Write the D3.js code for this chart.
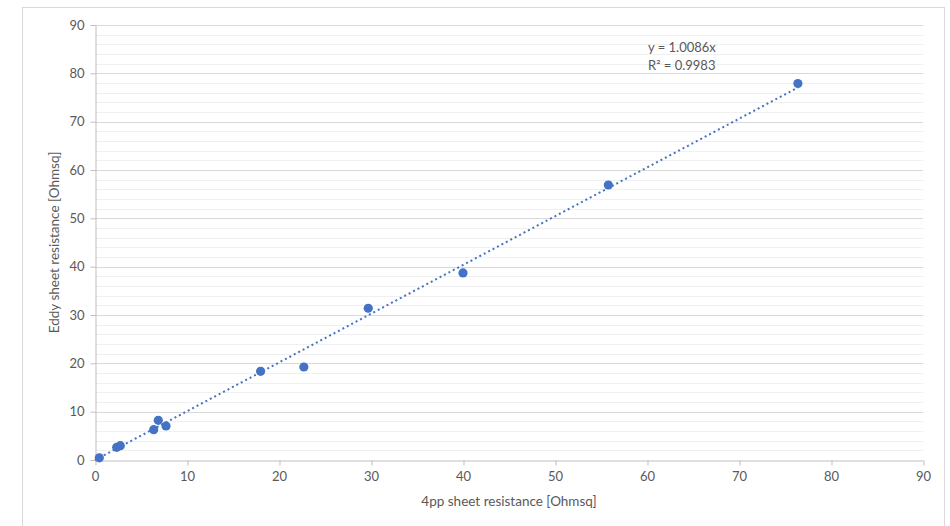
<!DOCTYPE html>
<html><head><meta charset="utf-8">
<script src="https://cdn.jsdelivr.net/npm/d3@7"></script>
<style>
body{margin:0;background:#fff;}
text{font-family:Lato,"Open Sans",sans-serif;fill:#595959;}
</style></head>
<body><svg id="c" width="950" height="526"></svg>
<script>
const xValues = [0.47, 2.36, 2.75, 6.38, 6.88, 7.72, 18.0, 22.7, 29.7, 40.0, 55.8, 76.4];
const yValues = [0.45, 2.62, 2.97, 6.28, 8.2, 7.03, 18.35, 19.24, 31.4, 38.7, 56.9, 77.9];
const xTicks = [0,10,20,30,40,50,60,70,80,90];
const yTicks = [0,10,20,30,40,50,60,70,80,90];
const slope = 1.0086;
const equationLines = ["y = 1.0086x", "R² = 0.9983"];
const xTitle = "4pp sheet resistance [Ohmsq]";
const yTitle = "Eddy sheet resistance [Ohmsq]";

const svg = d3.select("#c");
// chart border
svg.append("rect").attr("x",22.5).attr("y",7.5).attr("width",922).attr("height",530)
  .attr("fill","none").attr("stroke","#d9d9d9");

const x = d3.scaleLinear().domain([0,90]).range([95,923]);
const y = d3.scaleLinear().domain([0,90]).range([460,25]);

// minor gridlines
const minor = d3.range(0,91,2).filter(v=>v%10!==0);
svg.append("g").selectAll("line").data(minor).join("line")
  .attr("x1",x(0)).attr("x2",x(90)).attr("y1",d=>Math.round(y(d))+0.5).attr("y2",d=>Math.round(y(d))+0.5)
  .attr("stroke","#f0f0f0").attr("stroke-width",1);
// major gridlines
svg.append("g").selectAll("line").data(yTicks.filter(v=>v>0)).join("line")
  .attr("x1",x(0)).attr("x2",x(90)).attr("y1",d=>Math.round(y(d))+0.5).attr("y2",d=>Math.round(y(d))+0.5)
  .attr("stroke","#d9d9d9").attr("stroke-width",1);

// axes
const xAxis = svg.append("g").attr("transform",`translate(0,${Math.round(y(0))+0.5})`)
  .call(d3.axisBottom(x).tickValues(xTicks).tickSize(5).tickPadding(6).tickSizeOuter(0));
const yAxis = svg.append("g").attr("transform",`translate(${Math.round(x(0))+0.5},0)`)
  .call(d3.axisLeft(y).tickValues(yTicks).tickSize(5).tickPadding(6).tickSizeOuter(0));
[xAxis,yAxis].forEach(a=>{
  a.select(".domain").attr("stroke","#bfbfbf");
  a.selectAll(".tick line").attr("stroke","#bfbfbf");
  a.selectAll(".tick text").attr("font-size",13).style("fill","#595959").attr("font-family","Lato,sans-serif");
});
xAxis.selectAll(".tick line").attr("transform",d=>"translate(0.5,0)");

// trendline
const xMin = d3.min(xValues), xMax = d3.max(xValues);
svg.append("line").attr("x1",x(0)).attr("y1",y(0)).attr("x2",x(xMax)).attr("y2",y(slope*xMax))
  .attr("stroke","#4472c4").attr("stroke-width",2).attr("stroke-dasharray","2 3");

// points
svg.append("g").selectAll("circle").data(xValues.map((v,i)=>[v,yValues[i]])).join("circle")
  .attr("cx",d=>x(d[0])).attr("cy",d=>y(d[1])).attr("r",4.6)
  .attr("fill","#4472c4");

// equation
svg.append("g").selectAll("text").data(equationLines).join("text")
  .attr("x",648).attr("y",(d,i)=>52+i*18).attr("font-size",13).text(d=>d);

// titles
svg.append("text").attr("x",(x(0)+x(90))/2).attr("y",506).attr("text-anchor","middle")
  .attr("font-size",13.5).text(xTitle);
svg.append("text").attr("transform",`translate(59,${(y(0)+y(90))/2}) rotate(-90)`)
  .attr("text-anchor","middle").attr("font-size",13.5).text(yTitle);
</script></body></html>
